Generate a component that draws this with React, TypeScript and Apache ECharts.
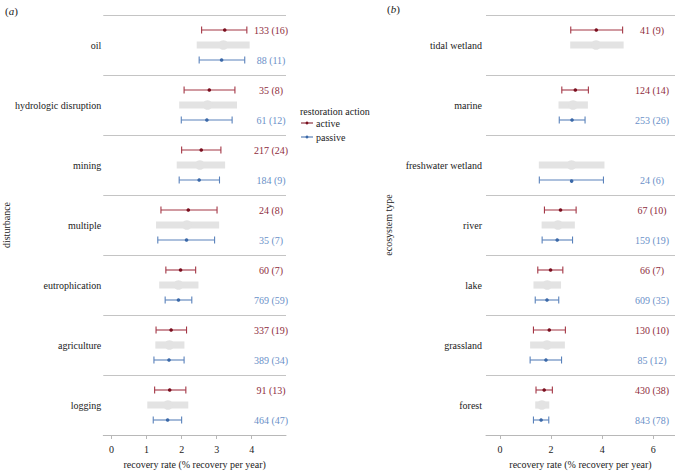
import React, { useEffect, useRef } from "react";
import * as echarts from "echarts";

// ---- data: panel (a) disturbance ----
const disturbances = ["oil", "hydrologic disruption", "mining", "multiple", "eutrophication", "agriculture", "logging"];
const distActiveLow = [2.57, 2.07, 2.0, 1.41, 1.55, 1.27, 1.23];
const distActiveMean = [3.23, 2.79, 2.56, 2.19, 1.97, 1.7, 1.66];
const distActiveHigh = [3.86, 3.52, 3.12, 3.01, 2.4, 2.14, 2.12];
const distActiveLabel = ["133 (16)", "35 (8)", "217 (24)", "24 (8)", "60 (7)", "337 (19)", "91 (13)"];
const distOverallLow = [2.43, 1.93, 1.86, 1.27, 1.36, 1.25, 1.02];
const distOverallMean = [3.19, 2.74, 2.52, 2.15, 1.91, 1.65, 1.61];
const distOverallHigh = [3.94, 3.58, 3.24, 3.07, 2.48, 2.08, 2.19];
const distPassiveLow = [2.5, 1.99, 1.93, 1.32, 1.53, 1.21, 1.19];
const distPassiveMean = [3.14, 2.72, 2.5, 2.14, 1.91, 1.64, 1.6];
const distPassiveHigh = [3.8, 3.44, 3.08, 2.94, 2.29, 2.07, 2.0];
const distPassiveLabel = ["88 (11)", "61 (12)", "184 (9)", "35 (7)", "769 (59)", "389 (34)", "464 (47)"];

// ---- data: panel (b) ecosystem type ----
const ecosystems = ["tidal wetland", "marine", "freshwater wetland", "river", "lake", "grassland", "forest"];
const ecoActiveLow = [2.77, 2.42, null, 1.74, 1.48, 1.31, 1.41];
const ecoActiveMean = [3.77, 2.95, null, 2.37, 1.98, 1.93, 1.73];
const ecoActiveHigh = [4.8, 3.46, null, 2.98, 2.46, 2.56, 2.05];
const ecoActiveLabel = ["41 (9)", "124 (14)", null, "67 (10)", "66 (7)", "130 (10)", "430 (38)"];
const ecoOverallLow = [2.75, 2.29, 1.52, 1.63, 1.31, 1.18, 1.38];
const ecoOverallMean = [3.76, 2.86, 2.8, 2.27, 1.85, 1.84, 1.64];
const ecoOverallHigh = [4.84, 3.44, 4.09, 2.93, 2.39, 2.54, 1.93];
const ecoPassiveLow = [null, 2.32, 1.54, 1.65, 1.38, 1.18, 1.31];
const ecoPassiveMean = [null, 2.82, 2.79, 2.24, 1.84, 1.8, 1.61];
const ecoPassiveHigh = [null, 3.33, 4.05, 2.84, 2.3, 2.41, 1.91];
const ecoPassiveLabel = [null, "253 (26)", "24 (6)", "159 (19)", "609 (35)", "85 (12)", "843 (78)"];

const leftTicks = [0, 1, 2, 3, 4];
const rightTicks = [0, 2, 4, 6];

const FONT = "Liberation Serif, serif";
const RED_LINE = "#a33645";
const RED_PT = "#7a0f1f";
const RED_TXT = "#8e2c3c";
const BLUE_LINE = "#5a82bb";
const BLUE_PT = "#3a68a8";
const BLUE_TXT = "#6a90c8";
const GRAY = "#e3e3e3";

function buildData(lows: any[], means: any[], highs: any[]) {
  const out: number[][] = [];
  means.forEach((m, i) => {
    if (m != null) out.push([lows[i], m, highs[i], i]);
  });
  return out;
}

function errSeries(
  name: string,
  lows: any[],
  means: any[],
  highs: any[],
  labels: any[],
  lineColor: string,
  ptColor: string,
  txtColor: string,
  axisIdx: number,
  labelX: number,
  offset: number
) {
  const data = buildData(lows, means, highs);
  return {
    type: "custom",
    name,
    xAxisIndex: axisIdx,
    yAxisIndex: axisIdx,
    itemStyle: { color: ptColor },
    encode: { x: [0, 1, 2], y: 3 },
    data,
    renderItem: (params: any, api: any) => {
      const cat = api.value(3);
      const band = api.size([0, 1])[1];
      const p0 = api.coord([api.value(0), cat]);
      const p1 = api.coord([api.value(1), cat]);
      const p2 = api.coord([api.value(2), cat]);
      const y = p1[1] + offset * band;
      const lx = api.coord([labelX, cat])[0];
      const idx = data[params.dataIndex][3];
      const ls = { stroke: lineColor, lineWidth: 1.1 };
      return {
        type: "group",
        children: [
          { type: "line", shape: { x1: p0[0], y1: y, x2: p2[0], y2: y }, style: ls },
          { type: "line", shape: { x1: p0[0], y1: y - 3.5, x2: p0[0], y2: y + 3.5 }, style: ls },
          { type: "line", shape: { x1: p2[0], y1: y - 3.5, x2: p2[0], y2: y + 3.5 }, style: ls },
          { type: "circle", shape: { cx: p1[0], cy: y, r: 1.8 }, style: { fill: ptColor } },
          {
            type: "text",
            x: lx,
            y: y,
            style: {
              text: labels[idx],
              fill: txtColor,
              fontFamily: FONT,
              fontSize: 10,
              align: "center",
              verticalAlign: "middle",
            },
          },
        ],
      };
    },
  };
}

function overallSeries(lows: any[], means: any[], highs: any[], axisIdx: number) {
  const data = buildData(lows, means, highs);
  return {
    type: "custom",
    name: "overall",
    xAxisIndex: axisIdx,
    yAxisIndex: axisIdx,
    itemStyle: { color: GRAY },
    encode: { x: [0, 1, 2], y: 3 },
    data,
    renderItem: (params: any, api: any) => {
      const cat = api.value(3);
      const p0 = api.coord([api.value(0), cat]);
      const p1 = api.coord([api.value(1), cat]);
      const p2 = api.coord([api.value(2), cat]);
      const y = p1[1];
      return {
        type: "group",
        children: [
          { type: "rect", shape: { x: p0[0], y: y - 3.6, width: p2[0] - p0[0], height: 7.2 }, style: { fill: GRAY } },
          { type: "circle", shape: { cx: p1[0], cy: y, r: 4.8 }, style: { fill: GRAY } },
        ],
      };
    },
  };
}

const legendIcon = "path://M0,2.1 L12,2.1 L12,2.9 L0,2.9 Z M6,1 A1.5,1.5 0 1,1 5.99,1 Z";

function yAxis(idx: number, cats: string[], name: string, nameGap: number, margin: number) {
  return {
    type: "category",
    gridIndex: idx,
    data: cats,
    inverse: true,
    boundaryGap: true,
    name,
    nameLocation: "middle",
    nameRotate: 90,
    nameGap,
    nameTextStyle: { fontFamily: FONT, fontSize: 10, color: "#222" },
    axisLine: { show: false },
    axisTick: { show: false },
    axisLabel: { fontFamily: FONT, fontSize: 10, color: "#222", margin },
    splitLine: { show: true, lineStyle: { color: "#c4c4c4", width: 1 } },
  };
}

function xAxis(idx: number, min: number, max: number, ticks: number[]) {
  return {
    type: "value",
    gridIndex: idx,
    min,
    max,
    name: "recovery rate (% recovery per year)",
    nameLocation: "middle",
    nameGap: 24,
    nameTextStyle: { fontFamily: FONT, fontSize: 10, color: "#222" },
    axisLine: { show: true, lineStyle: { color: "#b8b8b8", width: 1 } },
    axisTick: { show: true, length: 4, customValues: ticks, lineStyle: { color: "#b8b8b8" } },
    axisLabel: { fontFamily: FONT, fontSize: 10, color: "#222", margin: 9, customValues: ticks },
    splitLine: { show: false },
  };
}

const richLetter = {
  p: { fontFamily: FONT, fontSize: 11, fontWeight: "normal", color: "#222" },
  i: { fontFamily: FONT, fontSize: 11, fontWeight: "normal", fontStyle: "italic", color: "#222" },
};

export default function App() {
  const ref = useRef<HTMLDivElement>(null);
  useEffect(() => {
    if (!ref.current) return;
    const chart = echarts.init(ref.current, undefined, { renderer: "svg" });
    chart.setOption({
      animation: false,
      backgroundColor: "#ffffff",
      textStyle: { fontFamily: FONT },
      title: [
        {
          text: "{p|(}{i|a}{p|)}",
          left: 0,
          top: 0,
          textStyle: { fontWeight: "normal", fontFamily: FONT, rich: richLetter },
        },
        {
          text: "{p|(}{i|b}{p|)}",
          left: 382,
          top: -2,
          textStyle: { fontWeight: "normal", fontFamily: FONT, rich: richLetter },
        },
        {
          text: "restoration action",
          left: 295,
          top: 101,
          textStyle: { fontFamily: FONT, fontSize: 10, fontWeight: "normal", color: "#222" },
        },
      ],
      legend: {
        left: 296,
        top: 113,
        orient: "vertical",
        itemWidth: 12,
        itemHeight: 5,
        itemGap: 4,
        selectedMode: false,
        textStyle: { fontFamily: FONT, fontSize: 10, color: "#222", padding: [0, 0, 0, -2] },
        data: [
          { name: "active", icon: legendIcon, itemStyle: { color: RED_PT } },
          { name: "passive", icon: legendIcon, itemStyle: { color: BLUE_PT } },
        ],
      },
      grid: [
        { left: 102, width: 184, top: 15, bottom: 32 },
        { left: 486, right: 0, top: 15, bottom: 32 },
      ],
      xAxis: [xAxis(0, -0.235, 4.977, leftTicks), xAxis(1, -0.547, 6.85, rightTicks)],
      yAxis: [yAxis(0, disturbances, "disturbance", 92, 2), yAxis(1, ecosystems, "ecosystem type", 93, 4)],
      series: [
        overallSeries(distOverallLow, distOverallMean, distOverallHigh, 0),
        errSeries("active", distActiveLow, distActiveMean, distActiveHigh, distActiveLabel, RED_LINE, RED_PT, RED_TXT, 0, 4.55, -0.25),
        errSeries("passive", distPassiveLow, distPassiveMean, distPassiveHigh, distPassiveLabel, BLUE_LINE, BLUE_PT, BLUE_TXT, 0, 4.55, 0.25),
        overallSeries(ecoOverallLow, ecoOverallMean, ecoOverallHigh, 1),
        errSeries("active", ecoActiveLow, ecoActiveMean, ecoActiveHigh, ecoActiveLabel, RED_LINE, RED_PT, RED_TXT, 1, 5.95, -0.25),
        errSeries("passive", ecoPassiveLow, ecoPassiveMean, ecoPassiveHigh, ecoPassiveLabel, BLUE_LINE, BLUE_PT, BLUE_TXT, 1, 5.95, 0.25),
      ],
    });
    return () => chart.dispose();
  }, []);
  return <div ref={ref} style={{ width: 675, height: 474, position: "fixed", left: 0, top: 0 }} />;
}
